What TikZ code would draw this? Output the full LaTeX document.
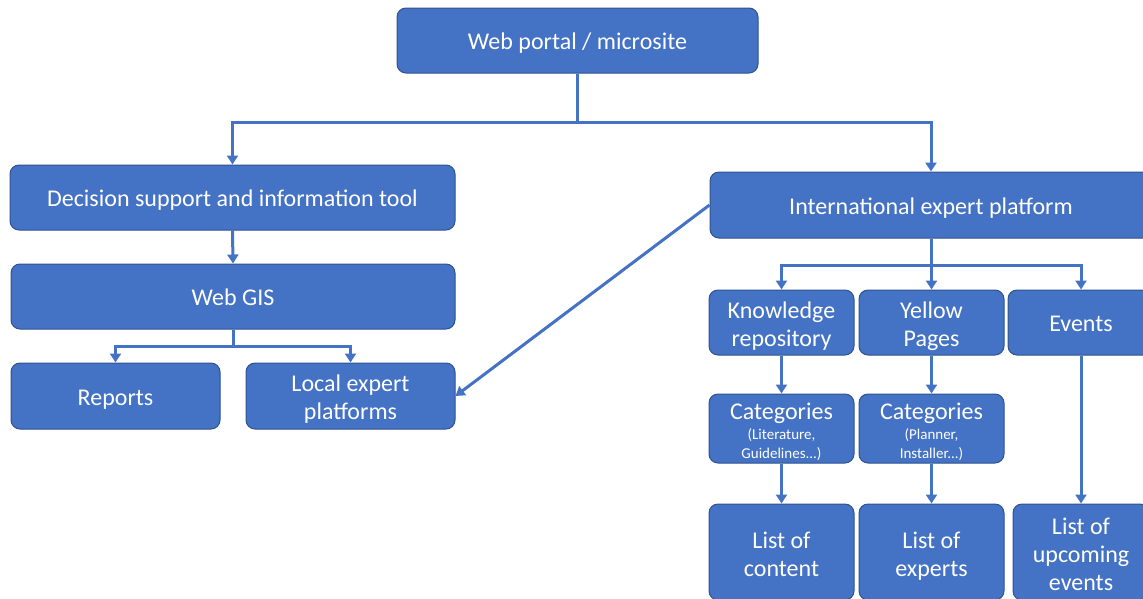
\documentclass[tikz,border=0pt]{standalone}
\usepackage{fontspec}
\setmainfont{Carlito}
\usetikzlibrary{arrows.meta}
\definecolor{offblue}{HTML}{4472C4}
\definecolor{offedge}{HTML}{2F528F}
\newcommand{\subtxt}{\fontsize{15}{18}\selectfont}
\newcommand{\fstrut}[1][25pt]{\rule{0pt}{#1}}

\begin{document}
\begin{tikzpicture}[x=1pt, y=-1pt,
  box/.style={draw=offedge, line width=1pt, fill=offblue, rounded corners=9pt,
    text=white, align=center, inner sep=0pt, font=\fontsize{24}{28}\selectfont,
    execute at begin node=\rule{0pt}{23pt},
    execute at end node=\rule[-5pt]{0pt}{5pt}},
  link/.style={offblue, line width=3pt, -{Triangle[width=11pt,length=9pt]}}]

\useasboundingbox (0,0) rectangle (1143,598);
\clip (0,0) rectangle (1143,598);

\def\cA{781.5}  % Knowledge column
\def\cB{931.5}  % Yellow Pages column
\def\cC{1081}   % Events column

%--- Top ---
\node[box, minimum width=361, minimum height=65] (portal) at (577.5,40.5) {Web portal / microsite};

%--- Left branch ---
\node[box, minimum width=445, minimum height=65] (dsit) at (232.5,197.5) {Decision support and information tool};
\node[box, minimum width=444, minimum height=65] (webgis) at (233,296.5) {Web GIS};
\node[box, minimum width=209, minimum height=66] (reports) at (115.5,396) {Reports};
\node[box, minimum width=209, minimum height=66] (local) at (350.5,396) {\fstrut[23pt]Local expert\\platforms};

%--- Right branch ---
\node[box, minimum width=442, minimum height=66] (iep) at (931,205) {International expert platform};
\node[box, minimum width=145, minimum height=65] (knowl) at (\cA,322.5) {\fstrut Knowledge\\repository};
\node[box, minimum width=145, minimum height=65] (yellow) at (\cB,322.5) {\fstrut Yellow\\Pages};
\node[box, minimum width=146, minimum height=65] (events) at (\cC,322.5) {Events};
\node[box, minimum width=145, minimum height=65] (catknowl) at (\cA,428.5)
  {\fstrut Categories\\[-8pt]{\subtxt (Literature,}\\[-9pt]{\subtxt Guidelines...)}};
\node[box, minimum width=145, minimum height=65] (catyellow) at (\cB,428.5)
  {\fstrut Categories\\[-8pt]{\subtxt (Planner,}\\[-9pt]{\subtxt Installer...)}};
\node[box, minimum width=145, minimum height=96] (listcontent) at (\cA,552) {\fstrut List of\\content};
\node[box, minimum width=145, minimum height=96] (listexperts) at (\cB,552) {\fstrut List of\\experts};
\node[box, minimum width=136, minimum height=96] (listevents) at (\cC,552) {\fstrut List of\\upcoming\\events};

%--- Split points ---
\coordinate (splittop) at (577.5,122);
\coordinate (splitgis) at (233,346);
\coordinate (splitiep) at (931,265);

%--- Connectors ---
\draw[link] (portal.south) -- (splittop) -| (dsit.north);
\draw[link] (splittop) -| (iep.north);
\draw[link] (dsit.south) -- (webgis.north);
\draw[link] (webgis.south) -- (splitgis) -| (reports.north);
\draw[link] (splitgis) -| (local.north);
\draw[link] (iep.south) -- (splitiep) -| (knowl.north);
\draw[link] (splitiep) -| (yellow.north);
\draw[link] (splitiep) -| (events.north);
\foreach \a/\b in {knowl/catknowl, yellow/catyellow, catknowl/listcontent,
                   catyellow/listexperts, events/listevents}
  \draw[link] (\a.south) -- (\b.north);

% cross link
\draw[link] (iep.west) -- (local.east);

\end{tikzpicture}
\end{document}
